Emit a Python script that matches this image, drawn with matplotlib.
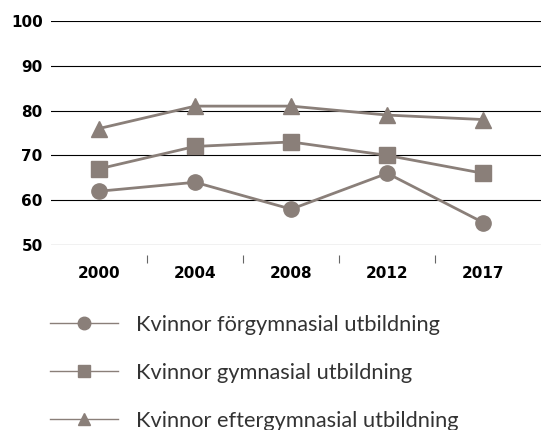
import numpy as np
import matplotlib
matplotlib.use("Agg")
import matplotlib.pyplot as plt
from matplotlib.lines import Line2D

years = ["2000", "2004", "2008", "2012", "2017"]
forgymnasial = [62, 64, 58, 66, 55]
gymnasial = [67, 72, 73, 70, 66]
eftergymnasial = [76, 81, 81, 79, 78]
labels = ["Kvinnor förgymnasial utbildning",
          "Kvinnor gymnasial utbildning",
          "Kvinnor eftergymnasial utbildning"]
yticks = [50, 60, 70, 80, 90, 100]

col = "#8a7f79"
plt.rcParams["font.family"] = ["Lato", "DejaVu Sans"]

fig = plt.figure(figsize=(5.41, 4.30), dpi=100)
ax = fig.add_axes([51 / 541, 185 / 430, 490 / 541, 224 / 430])

x = np.arange(len(years))
series = [(forgymnasial, "o", 11), (gymnasial, "s", 11), (eftergymnasial, "^", 11)]
for vals, m, ms in series:
    ax.plot(x, vals, color=col, lw=2, marker=m, ms=ms, zorder=3, clip_on=False)

ax.set_ylim(50, 100)
ax.set_yticks(yticks)
ax.set_yticklabels([str(v) for v in yticks])
ax.set_xlim(-0.5, 4.6)
ax.set_xticks(x)
ax.set_xticklabels(years)
ax.set_xticks(x[:-1] + 0.5, minor=True)
ax.grid(axis="y", color="black", lw=0.8)
ax.set_axisbelow(True)
for s in ax.spines.values():
    s.set_visible(False)
ax.spines["bottom"].set_position(("outward", 13))
ax.tick_params(axis="y", length=0, pad=6)
ax.tick_params(axis="x", which="major", length=0, pad=2)
ax.tick_params(axis="x", which="minor", length=6, width=0.8, color="#666666", direction="in")
for t in ax.get_xticklabels() + ax.get_yticklabels():
    t.set_family(["DejaVu Sans"])
    t.set_fontweight("bold")
    t.set_fontsize(11)

handles = [Line2D([], [], color=col, lw=1, marker=m, ms=9) for _, m, _ in series]
fig.legend(handles, labels, loc="upper left", bbox_to_anchor=(41 / 541, 1 - 306 / 430),
           frameon=False, fontsize=15.7, handlelength=3.12, handletextpad=0.84,
           labelspacing=1.28, labelcolor="#333333", borderaxespad=0)

fig.savefig("out.png", dpi=100)
